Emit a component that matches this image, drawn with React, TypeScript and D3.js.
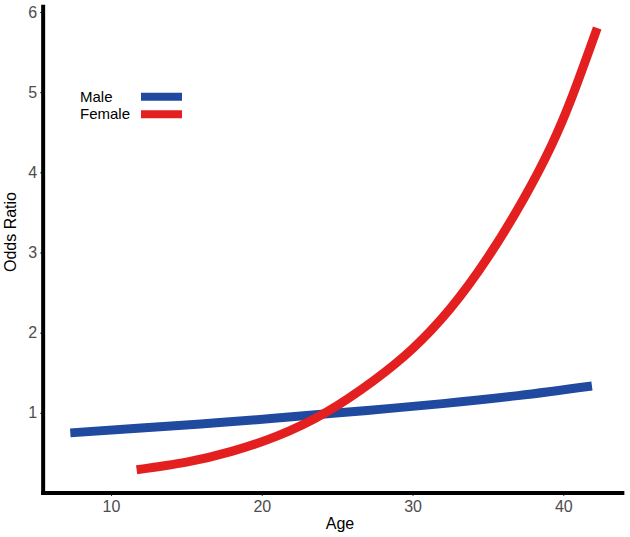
import { useEffect, useRef } from "react";
import * as d3 from "d3";

const W = 630, H = 537;

// ages and odds ratios
const maleAge = [7.3, 12, 17, 22, 27, 32, 37, 41.9];
const maleOR = [0.75, 0.81, 0.875, 0.95, 1.03, 1.115, 1.215, 1.335];

const femaleAge = [11.7, 15, 18, 21, 24.2, 27.4, 30, 32.5, 35, 37.4, 39.2, 40.6, 42.25];
const femaleOR = [0.29, 0.385, 0.52, 0.71, 1.0, 1.4, 1.8, 2.3, 2.94, 3.68, 4.33, 4.95, 5.8];

const xTicks = [10, 20, 30, 40];
const yTicks = [1, 2, 3, 4, 5, 6];

const series = [
  { name: "Male", color: "#1f4aa0", age: maleAge, or: maleOR },
  { name: "Female", color: "#e41f1f", age: femaleAge, or: femaleOR },
];

export default function App() {
  const svgRef = useRef<SVGSVGElement>(null);

  useEffect(() => {
    const svg = d3.select(svgRef.current);
    svg.selectAll("*").remove();

    const x = d3.scaleLinear().domain([10, 40]).range([111, 563.3]);
    const y = d3.scaleLinear().domain([0, 6]).range([493, 12]);

    const font = "Liberation Sans, Arial, sans-serif";

    // curves
    const line = d3.line<[number, number]>()
      .x(d => x(d[0])).y(d => y(d[1]))
      .curve(d3.curveNatural);

    series.forEach(s => {
      const pts = s.age.map((a, i) => [a, s.or[i]] as [number, number]);
      svg.append("path")
        .attr("d", line(pts))
        .attr("fill", "none")
        .attr("stroke", s.color)
        .attr("stroke-width", 9);
    });

    // axes
    const xAxisG = svg.append("g").attr("transform", `translate(0,${y(0)})`)
      .call(d3.axisBottom(x).tickValues(xTicks).tickSize(3).tickSizeOuter(0));
    xAxisG.select(".domain").remove();
    xAxisG.selectAll(".tick line").attr("stroke", "#333").attr("stroke-width", 1);
    xAxisG.selectAll("text").attr("fill", "#4d4d4d").attr("font-size", 16)
      .attr("font-family", font).attr("dy", "0.71em").attr("y", 8);

    const yAxisG = svg.append("g").attr("transform", `translate(${x(5.5)},0)`)
      .call(d3.axisLeft(y).tickValues(yTicks).tickFormat(d3.format("d")).tickSize(3).tickSizeOuter(0));
    yAxisG.select(".domain").remove();
    yAxisG.selectAll(".tick line").attr("stroke", "#333").attr("stroke-width", 1);
    yAxisG.selectAll("text").attr("fill", "#4d4d4d").attr("font-size", 16)
      .attr("font-family", font).attr("x", -6);

    // thick axis lines
    svg.append("line")
      .attr("x1", x(5.5)).attr("x2", x(5.5))
      .attr("y1", y(6.09)).attr("y2", y(0) + 2)
      .attr("stroke", "#000").attr("stroke-width", 4);
    svg.append("line")
      .attr("x1", x(5.5) - 2).attr("x2", x(44.05))
      .attr("y1", y(0)).attr("y2", y(0))
      .attr("stroke", "#000").attr("stroke-width", 4);

    // axis titles
    svg.append("text").attr("x", 340).attr("y", 529)
      .attr("text-anchor", "middle").attr("fill", "#000")
      .attr("font-size", 16).attr("font-family", font).text("Age");
    svg.append("text").attr("transform", "translate(16,232) rotate(-90)")
      .attr("text-anchor", "middle").attr("fill", "#000")
      .attr("font-size", 16).attr("font-family", font).text("Odds Ratio");

    // legend
    series.forEach((s, i) => {
      const cy = 96.7 + i * 17.6;
      svg.append("text").attr("x", 80).attr("y", cy + 5)
        .attr("fill", "#000").attr("font-size", 15).attr("font-family", font)
        .text(s.name);
      svg.append("line").attr("x1", 141).attr("x2", 182)
        .attr("y1", cy).attr("y2", cy)
        .attr("stroke", s.color).attr("stroke-width", 8);
    });
  }, []);

  return (
    <div style={{ position: "absolute", left: 0, top: 0, width: W, height: H, background: "#fff" }}>
      <svg ref={svgRef} width={W} height={H} style={{ display: "block" }} />
    </div>
  );
}
